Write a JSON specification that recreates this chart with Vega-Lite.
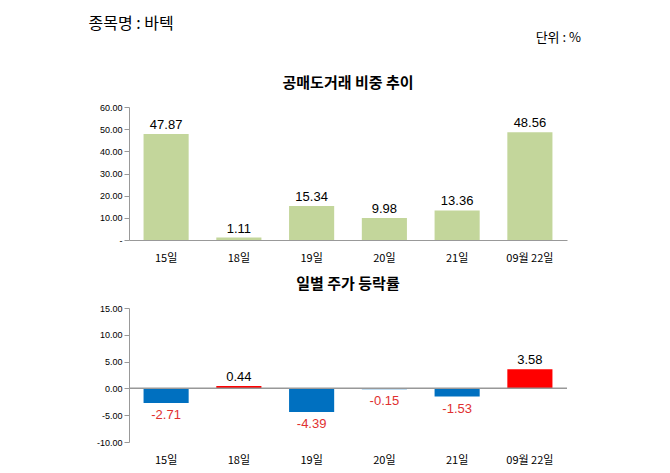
{
  "$schema": "https://vega.github.io/schema/vega-lite/v6.json",
  "padding": {"left": 88, "top": 16, "right": 20, "bottom": 6},
  "background": "white",
  "title": {"text": "종목명 : 바텍", "anchor": "start", "fontSize": 16, "fontWeight": "normal", "font": "Noto Sans CJK KR", "dx": -8, "offset": 0},
  "config": {
    "font": "Noto Sans CJK KR",
    "view": {"stroke": null},
    "concat": {"spacing": 14}
  },
  "datasets": {
    "short": [
      {"day": "15일", "v": 47.87},
      {"day": "18일", "v": 1.11},
      {"day": "19일", "v": 15.34},
      {"day": "20일", "v": 9.98},
      {"day": "21일", "v": 13.36},
      {"day": "09월 22일", "v": 48.56}
    ],
    "chg": [
      {"day": "15일", "v": -2.71},
      {"day": "18일", "v": 0.44},
      {"day": "19일", "v": -4.39},
      {"day": "20일", "v": -0.15},
      {"day": "21일", "v": -1.53},
      {"day": "09월 22일", "v": 3.58}
    ]
  },
  "vconcat": [
    {
      "width": 440, "height": 1,
      "data": {"values": []},
      "title": {"text": "단위 : %", "anchor": "end", "fontSize": 13, "fontWeight": "normal", "orient": "top", "offset": 0, "dx": 12, "dy": -16},
      "mark": "text",
      "encoding": {}
    },
    {
      "width": 438, "height": 133,
      "title": {"text": "공매도거래 비중 추이", "fontSize": 15, "fontWeight": "bold", "offset": 12},
      "data": {"name": "short"},
      "transform": [{"calculate": "format(datum.v, '.2f')", "as": "lbl"}],
      "encoding": {
        "x": {"field": "day", "type": "nominal", "sort": null, "title": null,
          "scale": {"paddingInner": 0.38, "paddingOuter": 0.2},
          "axis": {"labelAngle": 0, "labelFontSize": 11, "ticks": false, "domainColor": "#999", "labelPadding": 12}},
        "y": {"field": "v", "type": "quantitative", "title": null,
          "scale": {"domain": [0, 60]},
          "axis": {"values": [0, 10, 20, 30, 40, 50, 60], "grid": false, "labelFontSize": 9, "domainColor": "#999", "tickColor": "#999",
            "labelExpr": "datum.value == 0 ? '-' : format(datum.value, '.2f')", "labelFont": "Liberation Sans"}}
      },
      "layer": [
        {"mark": {"type": "bar", "color": "#c3d69b"}},
        {"mark": {"type": "text", "dy": -9, "fontSize": 13, "font": "Liberation Sans", "color": "black"},
          "encoding": {"text": {"field": "lbl"}}}
      ]
    },
    {
      "width": 438, "height": 134,
      "title": {"text": "일별 주가 등락률", "fontSize": 15, "fontWeight": "bold", "offset": 12},
      "data": {"name": "chg"},
      "transform": [{"calculate": "replace(format(datum.v, '.2f'), '\u2212', '-')", "as": "lbl"}],
      "encoding": {
        "x": {"field": "day", "type": "nominal", "sort": null, "title": null,
          "scale": {"paddingInner": 0.38, "paddingOuter": 0.2},
          "axis": {"labelAngle": 0, "labelFontSize": 11, "ticks": false, "domain": false, "labelPadding": 12}},
        "y": {"field": "v", "type": "quantitative", "title": null,
          "scale": {"domain": [-10, 15]},
          "axis": {"values": [-10, -5, 0, 5, 10, 15], "grid": false, "labelFontSize": 9, "labelFont": "Liberation Sans",
            "labelExpr": "replace(format(datum.value, '.2f'), '\u2212', '-')", "domainColor": "#999", "tickColor": "#999"}}
      },
      "layer": [
        {"mark": {"type": "bar"},
          "encoding": {"color": {"condition": {"test": "datum.v < 0", "value": "#0070c0"}, "value": "#ff0000"}}},
        {"mark": {"type": "rule", "color": "#999"}, "encoding": {"y": {"datum": 0}, "x": null}},
        {"transform": [{"filter": "datum.v >= 0"}],
          "mark": {"type": "text", "dy": -9, "fontSize": 13, "font": "Liberation Sans", "color": "black"},
          "encoding": {"text": {"field": "lbl"}}},
        {"transform": [{"filter": "datum.v < 0"}],
          "mark": {"type": "text", "dy": 12, "fontSize": 13, "font": "Liberation Sans", "color": "#e03030"},
          "encoding": {"text": {"field": "lbl"}}}
      ]
    }
  ]
}
